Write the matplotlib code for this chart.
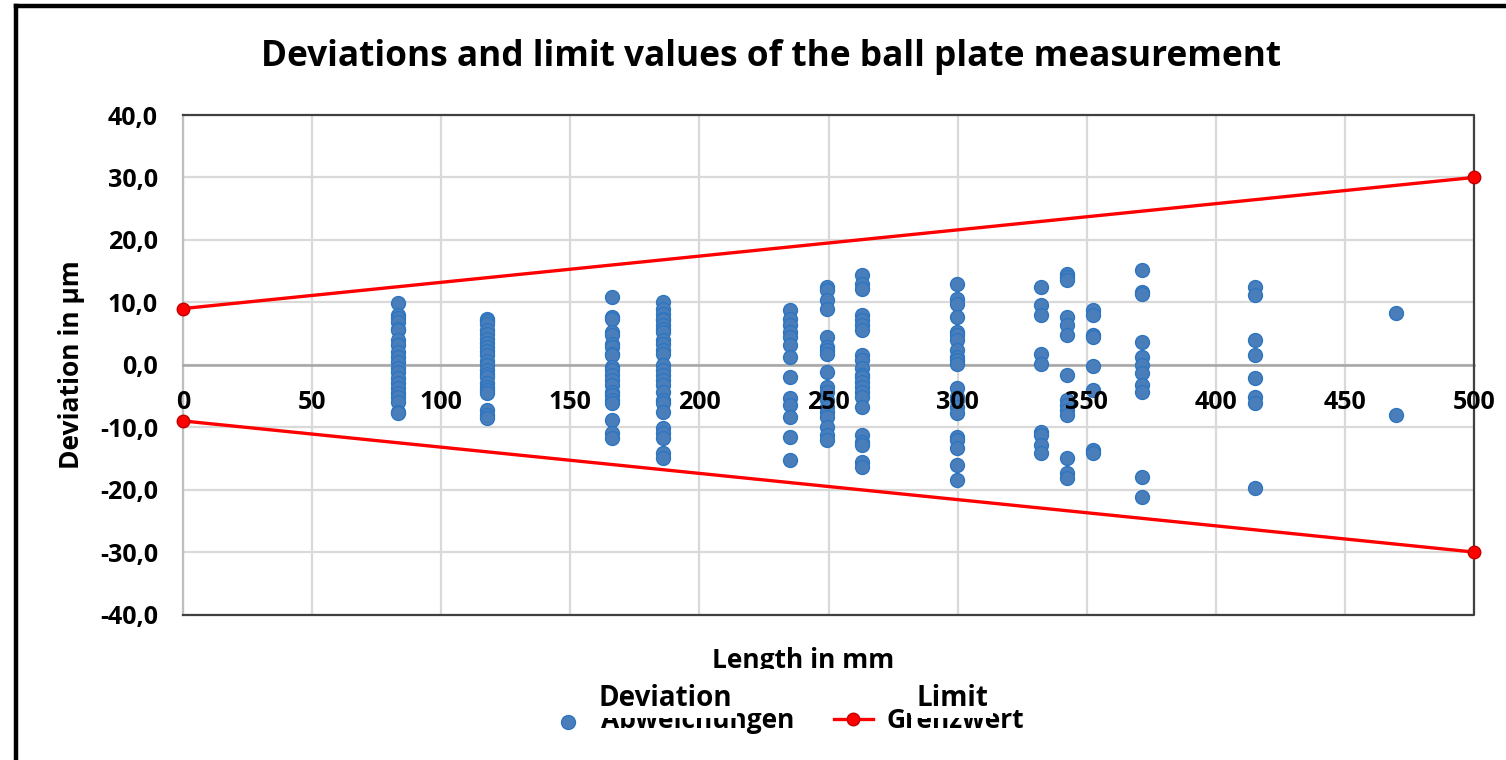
import numpy as np
import matplotlib
matplotlib.use("Agg")
import matplotlib.pyplot as plt
from matplotlib.lines import Line2D
from matplotlib.ticker import FuncFormatter

# Nominal ball distances (mm) and measured deviations (µm) per distance
lengths = [83.4, 117.6, 166.3, 185.8, 235.1, 249.3, 262.8,
           299.6, 332.3, 342.5, 352.3, 371.3, 415.2, 469.8]

dev_l01 = [9.9, 7.9, 7.5, 6.8, 5.7, 5.5, 3.9, 3.1, 2.0, 1.2, 0.4, -0.6,
           -1.2, -2.2, -3.0, -3.8, -4.5, -5.2, -6.0, -7.5, -7.8]
dev_l02 = [7.3, 7.0, 6.6, 5.6, 5.0, 4.2, 3.5, 2.9, 2.2, 1.5, 0.6, -0.1,
           -0.9, -1.5, -2.0, -3.0, -3.5, -4.1, -4.6, -7.3, -8.0, -8.6]
dev_l03 = [10.9, 7.7, 7.4, 5.3, 4.7, 3.4, 2.9, 1.8, 1.5, -0.4, -0.9,
           -1.7, -2.5, -3.3, -4.4, -4.9, -5.7, -6.2, -8.9, -11.0, -11.8]
dev_l04 = [10.1, 9.0, 8.2, 7.4, 7.1, 6.4, 5.8, 5.3, 3.9, 3.4, 2.3, 1.8,
           -0.1, -0.9, -1.7, -2.5, -3.3, -4.4, -5.7, -6.2, -7.6, -10.2,
           -11.0, -11.8, -14.2, -15.0]
dev_l05 = [8.7, 7.4, 6.3, 5.3, 4.5, 3.1, 1.3, -2.0, -5.4, -6.5, -8.4,
           -11.6, -15.3]
dev_l06 = [12.5, 11.9, 10.3, 9.0, 4.5, 2.9, 2.3, 1.8, -1.2, -3.6, -4.4,
           -5.7, -6.8, -7.6, -8.4, -10.0, -11.3, -12.1]
dev_l07 = [14.3, 13.0, 12.2, 7.9, 7.1, 6.3, 5.5, 1.5, 0.7, -0.6, -1.7,
           -2.0, -2.8, -3.6, -4.4, -5.2, -6.8, -11.3, -12.4, -12.9,
           -15.6, -16.4]
dev_l08 = [12.9, 10.5, 9.8, 7.7, 5.3, 4.7, 3.9, 2.3, 1.3, 0.7, 0.2, -3.8,
           -5.2, -5.7, -6.8, -7.8, -11.6, -12.1, -13.4, -16.1, -18.5]
dev_l09 = [12.4, 9.5, 7.9, 1.8, 0.2, -10.8, -11.3, -12.9, -14.2]
dev_l10 = [14.6, 14.1, 13.5, 7.7, 6.3, 4.7, -1.7, -5.7, -6.5, -7.3, -8.1,
           -15.0, -17.4, -18.2]
dev_l11 = [8.7, 7.9, 4.7, 4.5, -0.2, -4.1, -13.7, -14.2]
dev_l12 = [15.2, 11.7, 11.4, 3.7, 1.3, -0.1, -1.4, -3.3, -4.4, -18.0,
           -21.2]
dev_l13 = [12.5, 11.1, 3.9, 1.5, -2.2, -5.2, -6.2, -19.8]
dev_l14 = [8.3, -8.0]

# Tolerance limits (µm) at the ends of the measuring range
limit_x = [0, 500]
upper_limit = [9.0, 30.0]
lower_limit = [-9.0, -30.0]

x_ticks = [0, 50, 100, 150, 200, 250, 300, 350, 400, 450, 500]
y_ticks = [-40, -30, -20, -10, 0, 10, 20, 30, 40]

deviation_groups = [dev_l01, dev_l02, dev_l03, dev_l04, dev_l05, dev_l06,
                    dev_l07, dev_l08, dev_l09, dev_l10, dev_l11, dev_l12,
                    dev_l13, dev_l14]
x_pts = np.concatenate([[L] * len(d) for L, d in zip(lengths, deviation_groups)])
y_pts = np.concatenate(deviation_groups)

FONT = "Open Sans"
plt.rcParams["font.family"] = [FONT, "DejaVu Sans"]
plt.rcParams["font.weight"] = "bold"

W, H = 1506, 760
fig = plt.figure(figsize=(W / 100, H / 100), dpi=100)
fig.patch.set_facecolor("white")

ax = fig.add_axes([183 / W, 1 - 614.5 / H, (1474 - 183) / W, (614.5 - 115) / H])
ax.set_xlim(0, 500)
ax.set_ylim(-40, 40)

# gridlines drawn beneath the data
for xv in x_ticks:
    ax.axvline(xv, color="#d9d9d9", linewidth=1.6, zorder=0.5)
for yv in y_ticks:
    ax.axhline(yv, color="#d9d9d9", linewidth=1.6, zorder=0.5)

ax.scatter(x_pts, y_pts, s=100, facecolor="#4A7EBB", edgecolor="#2E75C0",
           linewidths=1.0, zorder=3, label="Abweichungen", clip_on=False)
ax.plot(limit_x, upper_limit, color="#ff0000", linewidth=2.4, marker="o",
        markersize=9, markerfacecolor="#ff0000", markeredgecolor="#c00000",
        markeredgewidth=1.0, zorder=4, label="Grenzwert", clip_on=False)
ax.plot(limit_x, lower_limit, color="#ff0000", linewidth=2.4, marker="o",
        markersize=9, markerfacecolor="#ff0000", markeredgecolor="#c00000",
        markeredgewidth=1.0, zorder=4, clip_on=False)

# axes crossing at zero
for side in ("top", "right"):
    ax.spines[side].set_visible(False)
ax.spines["bottom"].set_position(("data", 0))
ax.spines["bottom"].set_color("#a6a6a6")
ax.spines["bottom"].set_linewidth(1.8)
ax.spines["left"].set_color("#bfbfbf")
ax.spines["left"].set_linewidth(1.6)
ax.spines["bottom"].set_zorder(2)
ax.spines["left"].set_zorder(2)

# tick labels sit on top of the markers
ax.xaxis.set_zorder(6)
ax.yaxis.set_zorder(6)

# plot-area border
ax.plot([0, 1, 1, 0], [1, 1, 0, 0], transform=ax.transAxes, color="#404040",
        linewidth=1.6, clip_on=False, zorder=2.5)

ax.set_xticks(x_ticks)
ax.set_yticks(y_ticks)
ax.yaxis.set_major_formatter(FuncFormatter(lambda v, p: f"{v:.1f}".replace(".", ",")))
ax.tick_params(axis="both", length=0, labelsize=18, colors="black")
ax.tick_params(axis="y", pad=18)
ax.tick_params(axis="x", pad=18)
for lab in ax.get_xticklabels() + ax.get_yticklabels():
    lab.set_fontweight("bold")

ax.set_ylabel("Deviation in µm", fontsize=19, fontweight="bold", labelpad=11)
ax.set_xlabel("Length in mm", fontsize=19, fontweight="bold")
ax.xaxis.set_label_coords((803 - 183) / (1474 - 183), -(660 - 614.5) / (614.5 - 115))
ax.xaxis.label.set_verticalalignment("center")

leg = ax.legend(loc="center", bbox_to_anchor=(786 / W, 1 - 721 / H),
                bbox_transform=fig.transFigure, ncol=2, frameon=True,
                fontsize=19, handlelength=1.5, columnspacing=1.5,
                handletextpad=0.5, borderpad=1.45, fancybox=False,
                scatterpoints=1)
leg.get_frame().set_facecolor("white")
leg.get_frame().set_edgecolor("none")
leg.get_frame().set_alpha(1)
leg.set_zorder(8)
for t in leg.get_texts():
    t.set_fontweight("bold")

fig.text(665 / W, 1 - 698 / H, "Deviation", fontsize=20, fontweight="bold",
         ha="center", va="center", zorder=10,
         bbox=dict(facecolor="white", edgecolor="none", pad=4))
fig.text(952 / W, 1 - 698 / H, "Limit", fontsize=20, fontweight="bold",
         ha="center", va="center", zorder=10,
         bbox=dict(facecolor="white", edgecolor="none", pad=4))

fig.text(771 / W, 1 - 57 / H, "Deviations and limit values of the ball plate measurement",
         fontsize=25.4, fontweight="bold", ha="center", va="center")

# outer frame
fig.add_artist(Line2D([16 / W, 16 / W], [0, 1 - 6 / H], transform=fig.transFigure,
                      color="black", linewidth=3.2))
fig.add_artist(Line2D([16 / W, 1], [1 - 6 / H, 1 - 6 / H], transform=fig.transFigure,
                      color="black", linewidth=3.2))

fig.savefig("out.png", dpi=100)
